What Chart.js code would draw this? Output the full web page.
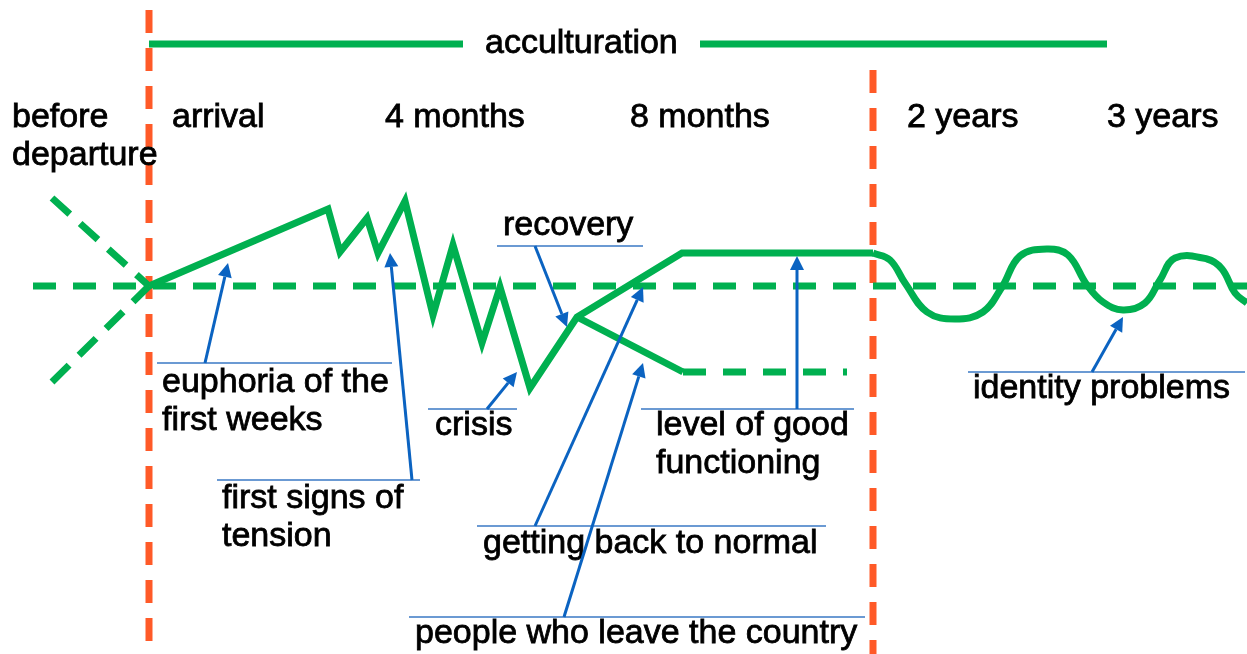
<!DOCTYPE html>
<html lang="en">
<head>
<meta charset="UTF-8">
<title>Acculturation curve</title>
<script src="https://cdn.jsdelivr.net/npm/chart.js"></script>
<style>
  html, body { margin: 0; padding: 0; background: #fff; }
  .wrap { position: relative; width: 1247px; height: 654px; }
</style>
</head>
<body>
<div class="wrap"><canvas id="curve"></canvas></div>
<script>
// x = position along the timeline, level = adjustment relative to the baseline (0)
const mainX     = [149, 328, 340, 367, 378, 405, 433, 453, 482, 500, 530, 577, 682, 873];
const mainLevel = [0, 77, 34, 68, 33, 85, -29, 41, -57, -1, -102, -31, 33, 33];

const leaveX     = [577, 683];
const leaveLevel = [-31, -86];
const leaveTailX = [683, 847];
const leaveTailLevel = [-86, -86];

const waveX     = [873, 890, 905, 927, 955, 983, 1002, 1020, 1047, 1068, 1087, 1103, 1123, 1145, 1160, 1175, 1207, 1222, 1235, 1247];
const waveLevel = [33, 26, 3, -26, -33, -26, -1, 30, 37, 31, 1, -16, -24, -17, 6, 28, 27, 17, -7, -17];

const baseX = [33, 1247];
const upDiagX = [52, 149], upDiagLevel = [88, 0];
const downDiagX = [52, 149], downDiagLevel = [-96, 0];

const phaseX = [149, 873];          // arrival, end of acculturation
const phaseTop = [276, 216];
const accX = [149, 463, 700, 1107];  // bar broken by its title
const accLevel = 242;

const timeLabels = [['before', 'departure'], ['arrival'], ['4 months'], ['8 months'], ['2 years'], ['3 years']];
const timeX = [12, 172, 385, 630, 907, 1107];
const timeLevel = 159;

const noteText = [
  ['euphoria of the', 'first weeks'],
  ['first signs of', 'tension'],
  ['crisis'],
  ['recovery'],
  ['getting back to normal'],
  ['people who leave the country'],
  ['level of good', 'functioning'],
  ['identity problems']
];
const noteTextX     = [162, 222, 435, 503, 483, 415, 656, 973];
const noteTextLevel = [-106, -222, -149, 51, -267, -357, -149, -112];
const noteLineFrom  = [157, 217, 428, 497, 477, 409, 641, 968];
const noteLineTo    = [392, 420, 517, 643, 826, 865, 854, 1245];
const noteLineLevel = [-77, -194, -123, 40, -240, -331, -123, -86];
const noteBaseX     = [205, 412, 487, 535, 535, 564, 797, 1092];
const noteTipX      = [228, 390, 517, 567, 643, 643, 797, 1123];
const noteTipLevel  = [23, 33, -86, -41, -1, -77, 30, -31];

const GREEN = '#00B050';
const ORANGE = '#FF5A28';
const BLUE = '#0B63C1';
const BLUE_LINE = '#3A78C4';
const FONT = '34px "Liberation Sans", Arial, sans-serif';

function pts(xs, ys) {
  return xs.map((x, i) => ({ x: x, y: Array.isArray(ys) ? ys[i] : ys }));
}

function line(data, opts) {
  return Object.assign({
    data: data,
    showLine: true,
    pointRadius: 0,
    borderColor: GREEN,
    borderWidth: 7,
    borderCapStyle: 'butt',
    tension: 0,
    fill: false
  }, opts);
}

const datasets = [
  line(pts([phaseX[0], phaseX[0]], [phaseTop[0], -368]), { borderColor: ORANGE, borderDash: [23, 15], order: 20 }),
  line(pts([phaseX[1], phaseX[1]], [phaseTop[1], -368]), { borderColor: ORANGE, borderDash: [23, 15], order: 20 }),
  line(pts(baseX, [0, 0]), { borderDash: [23, 17], order: 10 }),
  line(pts(upDiagX, upDiagLevel), { borderDash: [24, 14], order: 10 }),
  line(pts(downDiagX, downDiagLevel), { borderDash: [24, 14], order: 10 }),
  line(pts(accX.slice(0, 2), accLevel), { order: 5 }),
  line(pts(accX.slice(2), accLevel), { order: 5 }),
  line(pts(mainX, mainLevel), { borderJoinStyle: 'miter', order: 1 }),
  line(pts(leaveX, leaveLevel), { borderJoinStyle: 'miter', order: 1 }),
  line(pts(leaveTailX, leaveTailLevel), { borderDash: [23, 17], order: 1 }),
  line(pts(waveX, waveLevel), { tension: 0.4, borderJoinStyle: 'round', order: 1 })
];

const notesPlugin = {
  id: 'notes',
  afterDatasetsDraw(chart) {
    const ctx = chart.ctx;
    const sx = chart.scales.x, sy = chart.scales.y;
    const px = v => sx.getPixelForValue(v);
    const py = v => sy.getPixelForValue(v);
    const text = (t, x, y) => {
      ctx.fillStyle = '#000';
      ctx.strokeStyle = '#000';
      ctx.lineWidth = 0.8;
      ctx.fillText(t, x, y);
      ctx.strokeText(t, x, y);
    };
    ctx.save();
    ctx.font = FONT;
    ctx.textBaseline = 'alphabetic';
    ctx.textAlign = 'left';

    // phase title and time labels
    text('acculturation', px(485), py(233));
    timeLabels.forEach((lines, i) => {
      lines.forEach((t, j) => text(t, px(timeX[i]), py(timeLevel) + j * 38));
    });

    noteText.forEach((lines, i) => {
      lines.forEach((t, j) => text(t, px(noteTextX[i]), py(noteTextLevel[i]) + j * 38));
      // underline
      ctx.strokeStyle = BLUE_LINE;
      ctx.lineWidth = 1.5;
      ctx.beginPath();
      ctx.moveTo(px(noteLineFrom[i]), py(noteLineLevel[i]));
      ctx.lineTo(px(noteLineTo[i]), py(noteLineLevel[i]));
      ctx.stroke();
      // arrow shaft
      const x0 = px(noteBaseX[i]), y0 = py(noteLineLevel[i]);
      const x1 = px(noteTipX[i]), y1 = py(noteTipLevel[i]);
      const a = Math.atan2(y1 - y0, x1 - x0);
      const head = 14, half = 7;
      const bx = x1 - head * Math.cos(a), by = y1 - head * Math.sin(a);
      ctx.strokeStyle = BLUE;
      ctx.lineWidth = 3;
      ctx.beginPath();
      ctx.moveTo(x0, y0);
      ctx.lineTo(bx, by);
      ctx.stroke();
      // arrow head
      ctx.fillStyle = BLUE;
      ctx.beginPath();
      ctx.moveTo(x1, y1);
      ctx.lineTo(bx + half * Math.sin(a), by - half * Math.cos(a));
      ctx.lineTo(bx - half * Math.sin(a), by + half * Math.cos(a));
      ctx.closePath();
      ctx.fill();
    });
    ctx.restore();
  }
};

new Chart(document.getElementById('curve'), {
  type: 'scatter',
  data: { datasets: datasets },
  options: {
    responsive: true,
    maintainAspectRatio: false,
    animation: false,
    events: [],
    layout: { padding: 0 },
    plugins: { legend: { display: false }, tooltip: { enabled: false } },
    scales: {
      x: { type: 'linear', min: 0, max: 1247, display: false },
      y: { type: 'linear', min: -368, max: 286, display: false }
    }
  },
  plugins: [notesPlugin]
});
</script>
</body>
</html>
